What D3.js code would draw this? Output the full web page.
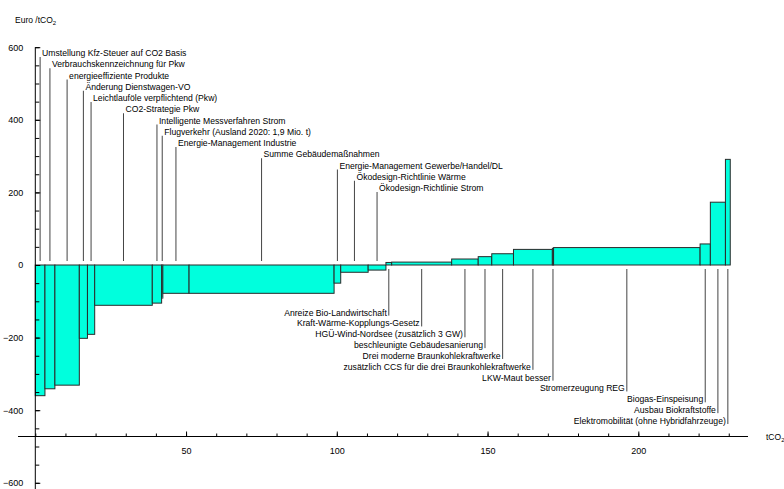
<!DOCTYPE html>
<html><head><meta charset="utf-8">
<script src="https://cdn.jsdelivr.net/npm/d3@7"></script>
<style>
body{margin:0;background:#fff}
text{font-family:"Liberation Sans",Arial,sans-serif;font-size:8.65px;fill:#000}
</style>
</head><body>
<svg id="chart" width="784" height="489"></svg>
<script>
// ---- data ----
const measures = [
  "Umstellung Kfz-Steuer auf CO2 Basis",
  "Verbrauchskennzeichnung für Pkw",
  "energieeffiziente Produkte",
  "Änderung Dienstwagen-VO",
  "Leichtlauföle verpflichtend (Pkw)",
  "CO2-Strategie Pkw",
  "Intelligente Messverfahren Strom",
  "Flugverkehr (Ausland 2020: 1,9 Mio. t)",
  "Energie-Management Industrie",
  "Summe Gebäudemaßnahmen",
  "Energie-Management Gewerbe/Handel/DL",
  "Ökodesign-Richtlinie Wärme",
  "Ökodesign-Richtlinie Strom",
  "Anreize Bio-Landwirtschaft",
  "Kraft-Wärme-Kopplungs-Gesetz",
  "HGÜ-Wind-Nordsee (zusätzlich 3 GW)",
  "beschleunigte Gebäudesanierung",
  "Drei moderne Braunkohlekraftwerke",
  "zusätzlich CCS für die drei Braunkohlekraftwerke",
  "LKW-Maut besser",
  "Stromerzeugung REG",
  "Biogas-Einspeisung",
  "Ausbau Biokraftstoffe",
  "Elektromobilität (ohne Hybridfahrzeuge)"
];
const abatement = [3.2, 3.3, 8.1, 2.7, 2.4, 19.1, 3.1, 0.4, 8.7, 48.1, 2.2, 9.1, 5.9,
                   1.9, 19.9, 8.8, 4.5, 7.2, 12.9, 0.4, 48.6, 3.4, 5.0, 1.6];
const costs = [-360, -341, -331, -202, -191, -111, -105, -91, -78, -78, -50, -20, -14,
               7, 8, 16.5, 23, 31, 43, 46, 48, 58, 173, 291];
const xMinorTicks = d3.range(0, 240, 10);
const xMajorTicks = [50, 100, 150, 200];
const yMinorTicks = d3.range(-600, 601, 50);
const yMajorTicks = [-600, -400, -200, 0, 200, 400, 600];

// ---- layout ----
const svg = d3.select("#chart");
const x = d3.scaleLinear().domain([0, 200]).range([35.3, 638.3]);
const y = d3.scaleLinear().domain([-600, 600]).range([482.8, 47.2]);
const xAxisY = 436.5;

const ends = d3.cumsum(abatement);
const bars = measures.map((m, i) => ({
  name: m, cost: costs[i],
  x0: i === 0 ? 0 : ends[i - 1], x1: ends[i]
}));
bars.forEach(b => b.mid = (b.x0 + b.x1) / 2);

// bars
svg.append("g").selectAll("rect").data(bars).join("rect")
  .attr("x", d => x(d.x0))
  .attr("width", d => x(d.x1) - x(d.x0))
  .attr("y", d => y(Math.max(0, d.cost)))
  .attr("height", d => Math.abs(y(d.cost) - y(0)))
  .attr("fill", "#00ffdd")
  .attr("stroke", "#2a2a2a")
  .attr("stroke-width", 1);

// labels
const upperBars = bars.filter(d => d.cost < 0);
const lowerBars = bars.filter(d => d.cost >= 0);
const lg = svg.append("g");
upperBars.forEach((d, i) => {
  const base = 56 + 11.25 * i;
  const px = x(d.mid);
  lg.append("line").attr("x1", px).attr("x2", px)
    .attr("y1", base + 1).attr("y2", y(0) - 4)
    .attr("stroke", "#444").attr("stroke-width", 1);
  lg.append("text").attr("x", px + 2).attr("y", base).text(d.name);
});
lowerBars.forEach((d, i) => {
  const base = 315.6 + 10.84 * i;
  const px = x(d.mid);
  lg.append("line").attr("x1", px).attr("x2", px)
    .attr("y1", y(0) + 4).attr("y2", base)
    .attr("stroke", "#444").attr("stroke-width", 1);
  lg.append("text").attr("x", px - 2).attr("y", base)
    .attr("text-anchor", "end").text(d.name);
});

// x axis
const gx = svg.append("g").attr("transform", `translate(0,${xAxisY})`);
gx.append("line").attr("x1", 18).attr("x2", 748).attr("stroke", "#000");
gx.append("g").call(d3.axisBottom(x).tickValues(xMinorTicks).tickSize(-3).tickFormat(""))
  .call(g => g.select(".domain").remove());
gx.append("g").call(d3.axisBottom(x).tickValues(xMajorTicks).tickSize(-5).tickPadding(11))
  .call(g => g.select(".domain").remove())
  .call(g => g.selectAll("text").style("font-size", "9px").attr("font-family", null));

// y axis
const gy = svg.append("g").attr("transform", `translate(${x(0)},0)`);
gy.append("line").attr("y1", y(600)).attr("y2", 489).attr("stroke", "#000");
gy.append("g").call(d3.axisLeft(y).tickValues(yMinorTicks).tickSize(-4).tickFormat(""))
  .call(g => g.select(".domain").remove());
gy.append("g").call(d3.axisLeft(y).tickValues(yMajorTicks).tickSize(-5).tickPadding(12))
  .call(g => g.select(".domain").remove())
  .call(g => g.selectAll("text").style("font-size", "9px").attr("font-family", null));
svg.selectAll(".tick line").attr("stroke", "#000");

// axis titles
const t1 = svg.append("text").attr("x", 15).attr("y", 23).style("font-size", "8.5px");
t1.append("tspan").text("Euro /tCO");
t1.append("tspan").attr("dy", 2).style("font-size", "6px").text("2");
const t2 = svg.append("text").attr("x", 766).attr("y", 440).style("font-size", "8.5px");
t2.append("tspan").text("tCO");
t2.append("tspan").attr("dy", 2).style("font-size", "6px").text("2");
</script>
</body></html>
